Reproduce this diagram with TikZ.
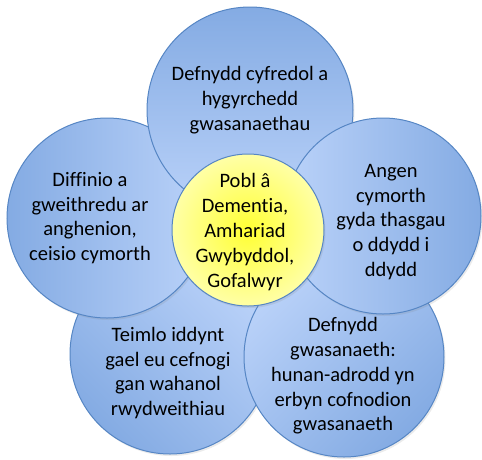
\documentclass[tikz,border=0pt]{standalone}
\usepackage{fontspec}
\setmainfont[Ligatures={NoCommon}]{Carlito}
\usetikzlibrary{shadows}
\definecolor{bdark}{HTML}{84ABE3}
\definecolor{blight}{HTML}{BAD2F9}
\definecolor{bline}{HTML}{5686C4}
\definecolor{yin}{HTML}{FFFF33}
\definecolor{yout}{HTML}{FFFFA6}
\tikzset{
  petal/.style={circle, draw=bline, line width=1pt, minimum size=#1, inner sep=0pt,
    top color=bdark, middle color=blight, bottom color=blight,
    drop shadow={opacity=0.16, shadow xshift=1.5pt, shadow yshift=-2pt}},
  hub/.style={circle, draw=bline, line width=1pt, minimum size=#1, inner sep=0pt,
    inner color=yin, outer color=yout,
    drop shadow={opacity=0.16, shadow xshift=1.5pt, shadow yshift=-2pt}},
  txt/.style={align=center, font=\fontsize{20.5}{24.8}\selectfont, inner sep=0pt}
}
\begin{document}
\begin{tikzpicture}[x=1pt,y=-1pt]
\useasboundingbox (0,0) rectangle (482,459);
\node[petal=200pt, shading angle=135] (bl) at (170,354) {};
\node[petal=200pt, shading angle=-135] (br) at (344,357) {};
\node[petal=200pt, shading angle=90] (lf) at (107,218) {};
\node[petal=206pt] (tp) at (250,110) {};
\node[petal=196pt, shading angle=-90] (rt) at (383,216) {};
\node[hub=152pt] (hb) at (248,230) {};
\node[txt] (ttp) at (250,100) {Defnydd cyfredol a\\hygyrchedd\\gwasanaethau};
\node[txt] (tlf) at (90,218) {Diffinio a\\gweithredu ar\\anghenion,\\ceisio cymorth};
\node[txt] (trt) at (391,222) {Angen\\cymorth\\gyda thasgau\\o ddydd i\\ddydd};
\node[txt] (thb) at (245,232) {Pobl â\\Dementia,\\Amhariad\\Gwybyddol,\\Gofalwyr};
\node[txt] (tbl) at (168,373) {Teimlo iddynt\\gael eu cefnogi\\gan wahanol\\rwydweithiau};
\node[txt] (tbr) at (343,376) {Defnydd\\gwasanaeth:\\hunan-adrodd yn\\erbyn cofnodion\\gwasanaeth};
\end{tikzpicture}
\end{document}
